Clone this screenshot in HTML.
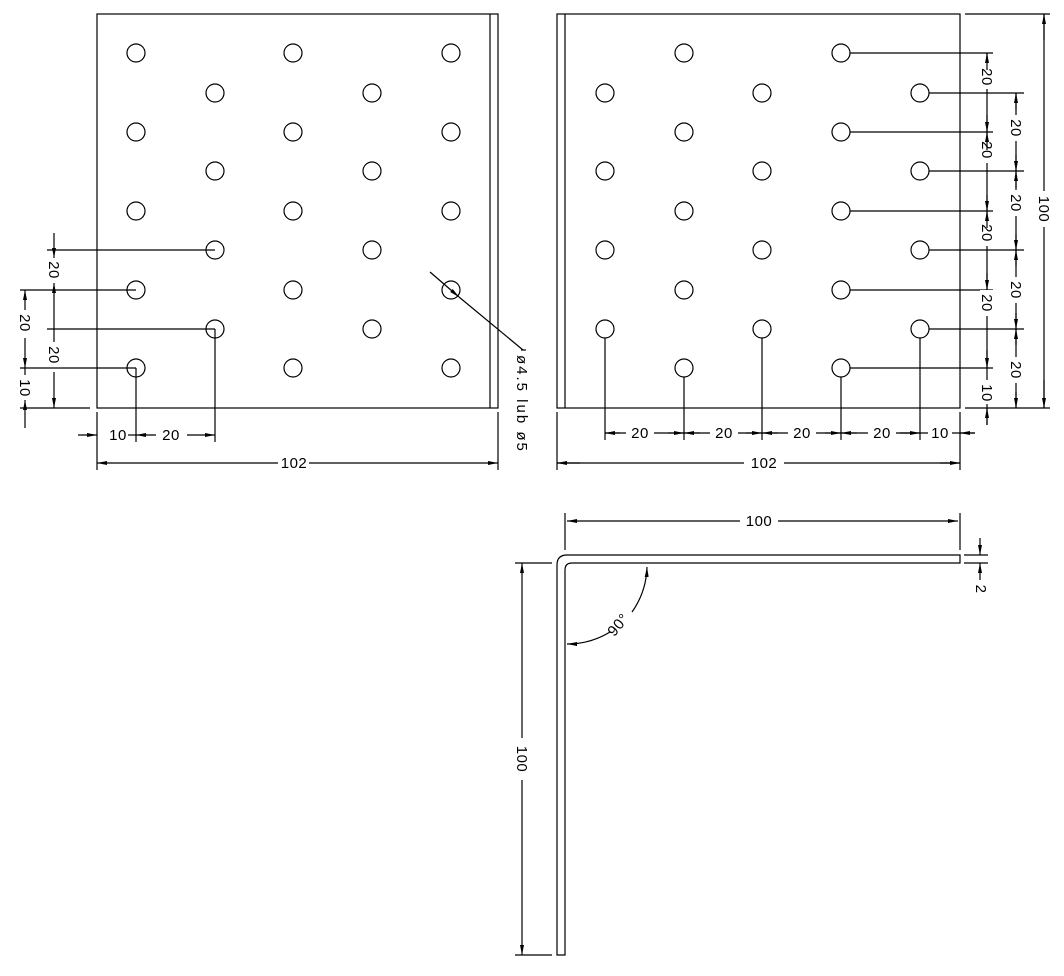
<!DOCTYPE html>
<html><head><meta charset="utf-8"><style>
html,body{margin:0;padding:0;background:#fff;}
svg{display:block;}
text{font-family:"Liberation Sans",sans-serif;font-size:15px;letter-spacing:0.5px;fill:#000;}
</style></head><body>
<svg width="1064" height="976" viewBox="0 0 1064 976" xmlns="http://www.w3.org/2000/svg">
<defs>
<marker id="a" viewBox="0 0 10 4" refX="10" refY="2" markerWidth="10" markerHeight="4" orient="auto-start-reverse" markerUnits="userSpaceOnUse"><path d="M0,0L10,2L0,4z" fill="#000"/></marker>
</defs>
<g stroke="#000" stroke-width="1.2" fill="none">
<rect x="97" y="14" width="401" height="394"/>
<line x1="490" y1="14" x2="490" y2="408"/>
<rect x="557" y="14" width="403" height="394"/>
<line x1="565" y1="14" x2="565" y2="408"/>
<g>
<circle cx="136" cy="53" r="9"/><circle cx="293" cy="53" r="9"/><circle cx="451" cy="53" r="9"/>
<circle cx="215" cy="93" r="9"/><circle cx="372" cy="93" r="9"/>
<circle cx="136" cy="132" r="9"/><circle cx="293" cy="132" r="9"/><circle cx="451" cy="132" r="9"/>
<circle cx="215" cy="171" r="9"/><circle cx="372" cy="171" r="9"/>
<circle cx="136" cy="211" r="9"/><circle cx="293" cy="211" r="9"/><circle cx="451" cy="211" r="9"/>
<circle cx="215" cy="250" r="9"/><circle cx="372" cy="250" r="9"/>
<circle cx="136" cy="290" r="9"/><circle cx="293" cy="290" r="9"/><circle cx="451" cy="290" r="9"/>
<circle cx="215" cy="329" r="9"/><circle cx="372" cy="329" r="9"/>
<circle cx="136" cy="368" r="9"/><circle cx="293" cy="368" r="9"/><circle cx="451" cy="368" r="9"/>
</g>
<g>
<circle cx="684" cy="53" r="9"/><circle cx="841" cy="53" r="9"/>
<circle cx="605" cy="93" r="9"/><circle cx="762" cy="93" r="9"/><circle cx="920" cy="93" r="9"/>
<circle cx="684" cy="132" r="9"/><circle cx="841" cy="132" r="9"/>
<circle cx="605" cy="171" r="9"/><circle cx="762" cy="171" r="9"/><circle cx="920" cy="171" r="9"/>
<circle cx="684" cy="211" r="9"/><circle cx="841" cy="211" r="9"/>
<circle cx="605" cy="250" r="9"/><circle cx="762" cy="250" r="9"/><circle cx="920" cy="250" r="9"/>
<circle cx="684" cy="290" r="9"/><circle cx="841" cy="290" r="9"/>
<circle cx="605" cy="329" r="9"/><circle cx="762" cy="329" r="9"/><circle cx="920" cy="329" r="9"/>
<circle cx="684" cy="368" r="9"/><circle cx="841" cy="368" r="9"/>
</g>
<line x1="47" y1="250" x2="215" y2="250"/>
<line x1="47" y1="329" x2="215" y2="329"/>
<line x1="20" y1="290" x2="136" y2="290"/>
<line x1="20" y1="368" x2="136" y2="368"/>
<line x1="20" y1="408" x2="90" y2="408"/>
<line x1="54" y1="233" x2="54" y2="258" marker-end="url(#a)"/>
<line x1="54" y1="283" x2="54" y2="342" marker-start="url(#a)"/>
<line x1="54" y1="372" x2="54" y2="408" marker-end="url(#a)"/>
<line x1="25" y1="290" x2="25" y2="310" marker-start="url(#a)"/>
<line x1="25" y1="338" x2="25" y2="368" marker-end="url(#a)"/>
<line x1="25" y1="368" x2="25" y2="375"/>
<line x1="25" y1="400" x2="25" y2="428" marker-start="url(#a)"/>
<line x1="136" y1="368" x2="136" y2="442"/>
<line x1="215" y1="329" x2="215" y2="442"/>
<line x1="97" y1="412" x2="97" y2="470"/>
<line x1="498" y1="412" x2="498" y2="470"/>
<line x1="78" y1="435" x2="97" y2="435" marker-end="url(#a)"/>
<line x1="128" y1="435" x2="136" y2="435"/>
<line x1="136" y1="435" x2="156" y2="435" marker-start="url(#a)"/>
<line x1="187" y1="435" x2="215" y2="435" marker-end="url(#a)"/>
<line x1="97" y1="463" x2="278" y2="463" marker-start="url(#a)"/>
<line x1="309" y1="463" x2="498" y2="463" marker-end="url(#a)"/>
<line x1="430" y1="272" x2="459" y2="297" marker-end="url(#a)"/>
<line x1="459" y1="297" x2="523" y2="350"/>
<line x1="521" y1="350" x2="526" y2="350"/>
<line x1="850" y1="53" x2="993" y2="53"/>
<line x1="850" y1="132" x2="993" y2="132"/>
<line x1="850" y1="211" x2="993" y2="211"/>
<line x1="850" y1="290" x2="993" y2="290"/>
<line x1="850" y1="368" x2="993" y2="368"/>
<line x1="929" y1="93" x2="1024" y2="93"/>
<line x1="929" y1="171" x2="1024" y2="171"/>
<line x1="929" y1="250" x2="1024" y2="250"/>
<line x1="929" y1="329" x2="1024" y2="329"/>
<line x1="965" y1="14" x2="1050" y2="14"/>
<line x1="965" y1="408" x2="1050" y2="408"/>
<line x1="987" y1="53" x2="987" y2="425"/>
<line x1="1016" y1="93" x2="1016" y2="408"/>
<line x1="1044" y1="14" x2="1044" y2="408"/>
<line x1="605" y1="338" x2="605" y2="440"/>
<line x1="684" y1="377" x2="684" y2="440"/>
<line x1="762" y1="338" x2="762" y2="440"/>
<line x1="841" y1="377" x2="841" y2="440"/>
<line x1="920" y1="338" x2="920" y2="440"/>
<line x1="960" y1="412" x2="960" y2="470"/>
<line x1="557" y1="412" x2="557" y2="470"/>
<line x1="605" y1="433" x2="975" y2="433"/>
<line x1="557" y1="463" x2="960" y2="463"/>
</g>
<g fill="#fff" stroke="none">
<rect x="980" y="63" width="14" height="26"/><rect x="980" y="137" width="14" height="26"/><rect x="980" y="220" width="14" height="26"/><rect x="980" y="290" width="14" height="26"/><rect x="980" y="380" width="14" height="24"/>
<rect x="1009" y="115" width="14" height="26"/><rect x="1009" y="190" width="14" height="26"/><rect x="1009" y="277" width="14" height="26"/><rect x="1009" y="357" width="14" height="26"/>
<rect x="1037" y="191" width="14" height="36"/>
<rect x="626" y="426" width="28" height="14"/><rect x="710" y="426" width="28" height="14"/><rect x="788" y="426" width="28" height="14"/><rect x="868" y="426" width="28" height="14"/><rect x="928" y="426" width="24" height="14"/>
<rect x="744" y="456" width="40" height="14"/>
</g>
<g>
<text transform="translate(49,270) rotate(90)" text-anchor="middle">20</text>
<text transform="translate(49,355) rotate(90)" text-anchor="middle">20</text>
<text transform="translate(20,323) rotate(90)" text-anchor="middle">20</text>
<text transform="translate(20,388) rotate(90)" text-anchor="middle">10</text>
<text x="118" y="440" text-anchor="middle">10</text>
<text x="171" y="440" text-anchor="middle">20</text>
<text x="294" y="468" text-anchor="middle">102</text>
<text transform="translate(517,355) rotate(90)" style="letter-spacing:2px">ø4.5  lub  ø5</text>
<text transform="translate(982,77) rotate(90)" text-anchor="middle">20</text>
<text transform="translate(982,150) rotate(90)" text-anchor="middle">20</text>
<text transform="translate(982,233) rotate(90)" text-anchor="middle">20</text>
<text transform="translate(982,303) rotate(90)" text-anchor="middle">20</text>
<text transform="translate(982,393) rotate(90)" text-anchor="middle">10</text>
<text transform="translate(1011,128) rotate(90)" text-anchor="middle">20</text>
<text transform="translate(1011,203) rotate(90)" text-anchor="middle">20</text>
<text transform="translate(1011,290) rotate(90)" text-anchor="middle">20</text>
<text transform="translate(1011,370) rotate(90)" text-anchor="middle">20</text>
<text transform="translate(1039,209) rotate(90)" text-anchor="middle">100</text>
<text x="640" y="438" text-anchor="middle">20</text>
<text x="724" y="438" text-anchor="middle">20</text>
<text x="802" y="438" text-anchor="middle">20</text>
<text x="882" y="438" text-anchor="middle">20</text>
<text x="940" y="438" text-anchor="middle">10</text>
<text x="764" y="468" text-anchor="middle">102</text>
</g>
<g stroke="#000" stroke-width="1.2" fill="none">
<line x1="987" y1="70" x2="987" y2="53" marker-end="url(#a)"/>
<line x1="987" y1="115" x2="987" y2="132" marker-end="url(#a)"/>
<line x1="987" y1="150" x2="987" y2="132" marker-end="url(#a)"/>
<line x1="987" y1="195" x2="987" y2="211" marker-end="url(#a)"/>
<line x1="987" y1="228" x2="987" y2="211" marker-end="url(#a)"/>
<line x1="987" y1="273" x2="987" y2="290" marker-end="url(#a)"/>
<line x1="987" y1="350" x2="987" y2="368" marker-end="url(#a)"/>
<line x1="987" y1="425" x2="987" y2="408" marker-end="url(#a)"/>
<line x1="1016" y1="110" x2="1016" y2="93" marker-end="url(#a)"/>
<line x1="1016" y1="155" x2="1016" y2="171" marker-end="url(#a)"/>
<line x1="1016" y1="188" x2="1016" y2="171" marker-end="url(#a)"/>
<line x1="1016" y1="234" x2="1016" y2="250" marker-end="url(#a)"/>
<line x1="1016" y1="266" x2="1016" y2="250" marker-end="url(#a)"/>
<line x1="1016" y1="313" x2="1016" y2="329" marker-end="url(#a)"/>
<line x1="1016" y1="345" x2="1016" y2="329" marker-end="url(#a)"/>
<line x1="1016" y1="392" x2="1016" y2="408" marker-end="url(#a)"/>
<line x1="1044" y1="40" x2="1044" y2="14" marker-end="url(#a)"/>
<line x1="1044" y1="380" x2="1044" y2="408" marker-end="url(#a)"/>
<line x1="620" y1="433" x2="605" y2="433" marker-end="url(#a)"/>
<line x1="668" y1="433" x2="684" y2="433" marker-end="url(#a)"/>
<line x1="700" y1="433" x2="684" y2="433" marker-end="url(#a)"/>
<line x1="746" y1="433" x2="762" y2="433" marker-end="url(#a)"/>
<line x1="778" y1="433" x2="762" y2="433" marker-end="url(#a)"/>
<line x1="825" y1="433" x2="841" y2="433" marker-end="url(#a)"/>
<line x1="857" y1="433" x2="841" y2="433" marker-end="url(#a)"/>
<line x1="900" y1="433" x2="920" y2="433" marker-end="url(#a)"/>
<line x1="975" y1="433" x2="960" y2="433" marker-end="url(#a)"/>
<line x1="580" y1="463" x2="557" y2="463" marker-end="url(#a)"/>
<line x1="940" y1="463" x2="960" y2="463" marker-end="url(#a)"/>
</g>
<g stroke="#000" stroke-width="1.2" fill="none">
<path d="M960,555 L567,555 Q557,555 557,565 L557,955 L565,955 L565,570 Q565,563 572,563 L960,563 Z"/>
<line x1="565" y1="513" x2="565" y2="550"/>
<line x1="960" y1="513" x2="960" y2="550"/>
<line x1="567" y1="521" x2="740" y2="521" marker-start="url(#a)"/>
<line x1="778" y1="521" x2="958" y2="521" marker-end="url(#a)"/>
<line x1="964" y1="555" x2="988" y2="555"/>
<line x1="964" y1="563" x2="988" y2="563"/>
<line x1="980" y1="538" x2="980" y2="555" marker-end="url(#a)"/>
<line x1="980" y1="580" x2="980" y2="563" marker-end="url(#a)"/>
<line x1="515" y1="563" x2="552" y2="563"/>
<line x1="515" y1="955" x2="552" y2="955"/>
<line x1="522" y1="738" x2="522" y2="563" marker-end="url(#a)"/>
<line x1="522" y1="780" x2="522" y2="955" marker-end="url(#a)"/>
<path d="M647,567 A82,82 0 0 1 632,612" marker-start="url(#a)"/>
<path d="M610,632 A82,82 0 0 1 567,644" marker-end="url(#a)"/>
</g>
<text transform="translate(976,589) rotate(90)" text-anchor="middle">2</text>
<text x="759" y="526" text-anchor="middle">100</text>
<text transform="translate(517,759) rotate(90)" text-anchor="middle">100</text>
<text transform="translate(622,628) rotate(-50)" text-anchor="middle">90°</text>
</svg>
</body></html>
